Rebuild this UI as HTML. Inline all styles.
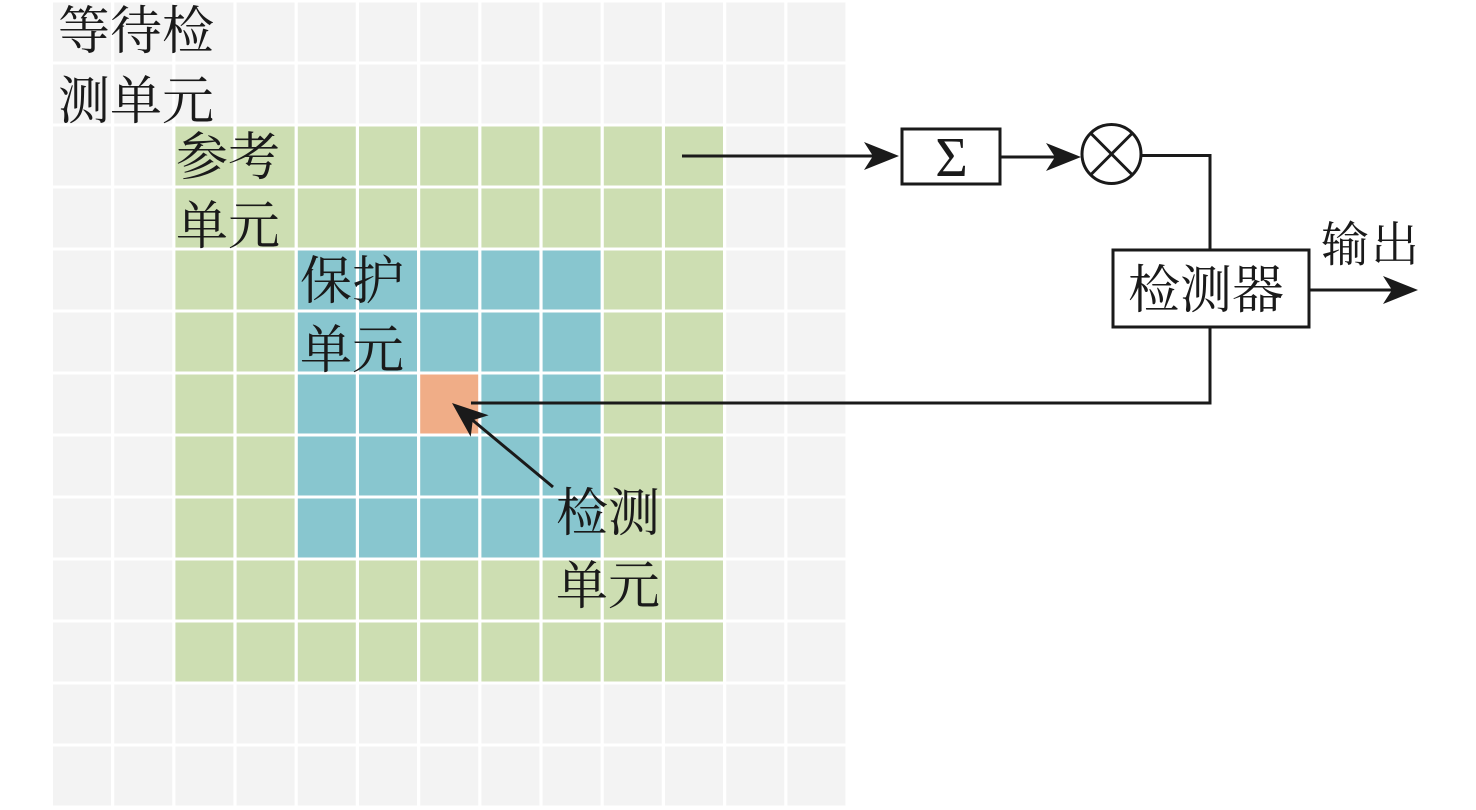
<!DOCTYPE html>
<html>
<head>
<meta charset="utf-8">
<style>
html,body{margin:0;padding:0;background:#fff;}
svg{display:block;}
text{font-family:"Liberation Serif","Noto Serif CJK SC",serif;fill:#1a1a1a;}
.cjk{font-family:"Noto Serif CJK SC","Noto Sans CJK SC",serif;font-size:52px;}
</style>
</head>
<body>
<svg width="1476" height="810" viewBox="0 0 1476 810" xmlns="http://www.w3.org/2000/svg">
<rect x="0" y="0" width="1476" height="810" fill="#fff"/>
<g id="grid">
</g>
<script>
(function(){
  var g=document.getElementById('grid');
  var ns='http://www.w3.org/2000/svg';
  for(var j=0;j<13;j++){
    for(var i=0;i<13;i++){
      var c='#f3f3f3';
      if(i>=2&&i<=10&&j>=2&&j<=10)c='#cddeb2';
      if(i>=4&&i<=8&&j>=4&&j<=8)c='#88c6cf';
      if(i==6&&j==6)c='#f0ad87';
      var r=document.createElementNS(ns,'rect');
      r.setAttribute('x',(53+61.2*i).toFixed(1));
      r.setAttribute('y',(2.5+62*j).toFixed(1));
      r.setAttribute('width','58');
      r.setAttribute('height','59');
      r.setAttribute('fill',c);
      g.appendChild(r);
    }
  }
})();
</script>

<!-- labels in grid -->
<text class="cjk" x="58" y="49">等待检</text>
<text class="cjk" x="58" y="119">测单元</text>
<text class="cjk" x="176" y="175">参考</text>
<text class="cjk" x="176" y="244">单元</text>
<text class="cjk" x="300" y="299">保护</text>
<text class="cjk" x="300" y="368">单元</text>
<text class="cjk" x="556" y="531">检测</text>
<text class="cjk" x="556" y="604">单元</text>

<!-- connectors -->
<g stroke="#1a1a1a" stroke-width="3" fill="none">
  <line x1="682" y1="156" x2="880" y2="156"/>
  <rect x="902" y="129" width="98" height="55"/>
  <line x1="1001" y1="157" x2="1065" y2="157"/>
  <circle cx="1111.5" cy="154" r="29.5"/>
  <line x1="1091" y1="133.5" x2="1132" y2="174.5"/>
  <line x1="1132" y1="133.5" x2="1091" y2="174.5"/>
  <polyline points="1141,155.5 1210,155.5 1210,250"/>
  <rect x="1113" y="250" width="196" height="77"/>
  <polyline points="1210,327 1210,403 471,403"/>
  <line x1="1310" y1="290" x2="1395" y2="290"/>
  <line x1="553" y1="487" x2="470" y2="418"/>
</g>

<!-- arrowheads -->
<g fill="#1a1a1a">
  <path transform="translate(899,156)" d="M0,0 L-35,-14 L-26,0 L-35,14Z"/>
  <path transform="translate(1081,157)" d="M0,0 L-35,-14 L-26,0 L-35,14Z"/>
  <path transform="translate(1418,290)" d="M0,0 L-35,-14 L-26,0 L-35,14Z"/>
  <path transform="translate(452,403) rotate(219.75)" d="M0,0 L-36,-14 L-27,0 L-36,14Z"/>
</g>

<!-- block labels -->
<text x="951.5" y="176" font-size="56" text-anchor="middle" font-family="Liberation Serif, serif">Σ</text>
<text class="cjk" x="1128" y="308">检测器</text>
<text class="cjk" x="1321" y="261" style="font-size:48px;letter-spacing:2px">输出</text>
</svg>
</body>
</html>
